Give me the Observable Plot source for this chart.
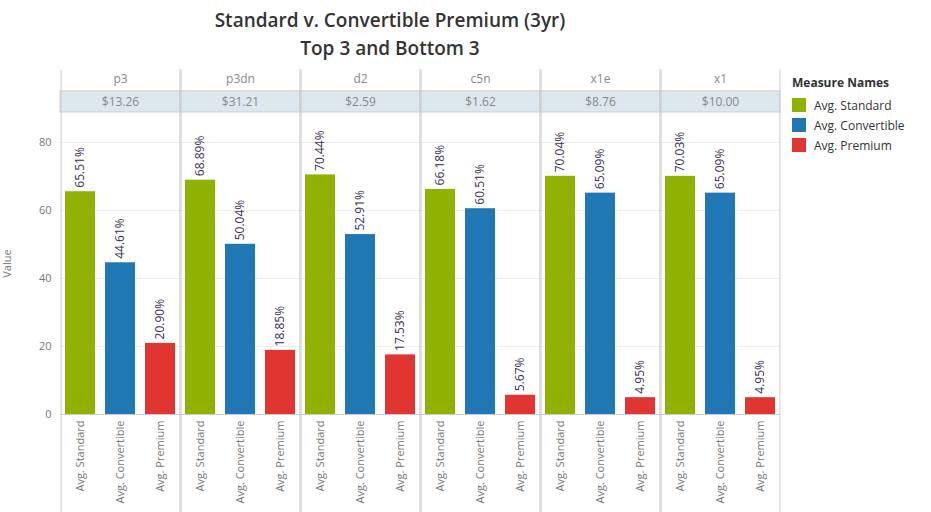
<!DOCTYPE html>
<html>
<head>
<meta charset="utf-8">
<script src="https://cdn.jsdelivr.net/npm/d3@7"></script>
<script src="https://cdn.jsdelivr.net/npm/@observablehq/plot@0.6"></script>
<style>
  body { margin: 0; font-family: "Open Sans", sans-serif; background: #fff; }
  #wrap { position: relative; width: 931px; height: 512px; }
  #title { position: absolute; left: 0; width: 780px; top: 6px; text-align: center; font-size: 19px; font-weight: 600; color: #333; line-height: 28px; }
  #chart { position: absolute; left: 0; top: 64px; }
  #legend { position: absolute; left: 792px; top: 74px; font-size: 12px; color: #333; }
  #legend .h { font-weight: bold; margin-bottom: 4px; }
  #legend .r { display: flex; align-items: center; height: 20px; }
  #legend .s { width: 14px; height: 14px; margin-right: 8px; }
</style>
</head>
<body>
<div id="wrap">
  <div id="title">Standard v. Convertible Premium (3yr)<br>Top 3 and Bottom 3</div>
  <div id="chart"></div>
  <div id="legend"></div>
</div>
<script>
// datos
const instancias = ['p3', 'p3dn', 'd2', 'c5n', 'x1e', 'x1']
const precios = ['$13.26', '$31.21', '$2.59', '$1.62', '$8.76', '$10.00']
const medidas = ['Avg. Standard', 'Avg. Convertible', 'Avg. Premium']
const colores = ['#8fb100', '#1f77b4', '#e03531']
const standard = [65.51, 68.89, 70.44, 66.18, 70.04, 70.03]
const convertible = [44.61, 50.04, 52.91, 60.51, 65.09, 65.09]
const premium = [20.90, 18.85, 17.53, 5.67, 4.95, 4.95]

const series = [standard, convertible, premium]
const data = []
instancias.forEach((inst, i) => {
  medidas.forEach((m, j) => data.push({inst, medida: m, valor: series[j][i]}))
})
const heads = instancias.map((inst, i) => ({inst, precio: precios[i]}))

const yTop = 88.8
const chart = Plot.plot({
  width: 785,
  height: 448,
  marginLeft: 60,
  marginRight: 5,
  marginTop: 48,
  marginBottom: 98,
  style: {fontFamily: "Open Sans, sans-serif", fontSize: 11, color: "#777"},
  fx: {domain: instancias, padding: 0, axis: null},
  x: {domain: medidas, paddingInner: 0.25, paddingOuter: 0.1, label: null, tickRotate: -90, tickSize: 0, tickPadding: 6},
  y: {domain: [0, yTop], ticks: [0, 20, 40, 60, 80], label: "Value", labelAnchor: "center", labelArrow: "none", tickSize: 0},
  color: {domain: medidas, range: colores},
  marks: [
    Plot.gridY([20, 40, 60, 80], {stroke: "#eee", strokeOpacity: 1}),
    Plot.rect(heads, {fx: "inst", y1: yTop, y2: yTop + 6.2, fill: "#dde8ee", stroke: "#ccc", clip: false}),
    Plot.text(heads, {fx: "inst", y: yTop + 3.1, text: "precio", fill: "#888", fontSize: 12, frameAnchor: "middle"}),
    Plot.text(heads, {fx: "inst", y: yTop + 9.7, text: "inst", fill: "#888", fontSize: 12, frameAnchor: "middle"}),
    Plot.ruleY([0], {stroke: "#ccc"}),
    Plot.barY(data, {fx: "inst", x: "medida", y: "valor", fill: "medida"}),
    Plot.text(data, {fx: "inst", x: "medida", y: "valor", text: d => d.valor.toFixed(2) + "%",
      rotate: -90, textAnchor: "start", dy: -4, fill: "#3a2e4f", fontSize: 12}),
    Plot.ruleX(heads, {fx: "inst", x: () => "Avg. Standard", dx: -19.4, y1: -29, y2: yTop + 12.5, stroke: "#ccc"}),
    Plot.ruleX(heads, {fx: "inst", x: () => "Avg. Premium", dx: 19.4, y1: -29, y2: yTop + 12.5, stroke: "#ccc"})
  ]
})
d3.select('#chart').append(() => chart)

const leg = d3.select('#legend')
leg.append('div').attr('class', 'h').text('Measure Names')
medidas.forEach((m, i) => {
  const r = leg.append('div').attr('class', 'r')
  r.append('div').attr('class', 's').style('background', colores[i])
  r.append('span').text(m)
})
</script>
</body>
</html>
